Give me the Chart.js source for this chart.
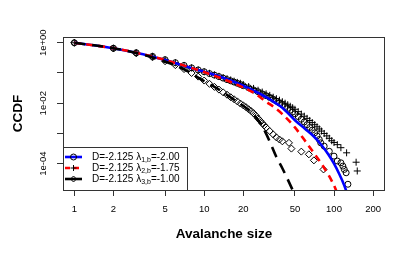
<!DOCTYPE html>
<html>
<head>
<meta charset="utf-8">
<script src="https://cdn.jsdelivr.net/npm/chart.js@4.4.1/dist/chart.umd.min.js"></script>
<style>
  html, body { margin: 0; padding: 0; background: #fff; }
</style>
</head>
<body>
<canvas id="grafico" width="409" height="254"></canvas>
<script>
// ejes
const ejeX = [1, 2, 5, 10, 20, 50, 100, 200];
const ejeY = [1, 1e-1, 1e-2, 1e-3, 1e-4];
const etiquetasY = ['1e+00', '', '1e-02', '', '1e-04'];

// datos empiricos (CCDF)
const circX = [1,2,3,4,5,6,7,8,9,10,11,12,13,14,15,16,17,18,19,20,22,24,26,28,30,32,34,36,38,40,42,44,46,48,50,53,56,59,62,65,68,71,74,77,79,84,92,100,106,113,117,120,124,128];
const circY = [1,0.66,0.468,0.355,0.275,0.219,0.178,0.148,0.126,0.110,0.0955,0.0851,0.0759,0.0676,0.0603,0.0550,0.0501,0.0457,0.0417,0.0380,0.0324,0.0275,0.0240,0.0204,0.0178,0.0155,0.0135,0.0117,0.0102,0.00891,0.00776,0.00676,0.00589,0.00513,0.00447,0.00363,0.00295,0.00240,0.00195,0.00158,0.00129,0.00105,0.000832,0.000631,0.000490,0.000380,0.000257,0.000178,0.000123,0.000107,0.0000832,0.0000646,0.0000501,0.0000209];

const cruzX = [1,2,3,4,5,6,7,8,9,10,11,12,13,14,15,16,17,18,19,20,22,24,26,28,30,32,34,36,38,40,42,44,46,48,50,53,56,59,62,65,68,71,74,77,80,84,88,92,96,100,106,113,125,148,151];
const cruzY = [1,0.66,0.468,0.355,0.275,0.219,0.178,0.148,0.126,0.110,0.0977,0.0871,0.0776,0.0708,0.0646,0.0589,0.0537,0.0490,0.0457,0.0417,0.0355,0.0309,0.0269,0.0234,0.0204,0.0182,0.0158,0.0141,0.0126,0.0112,0.0100,0.00891,0.00794,0.00708,0.00631,0.00525,0.00437,0.00372,0.00316,0.00269,0.00229,0.00195,0.00166,0.00141,0.00120,0.00100,0.000832,0.000692,0.000575,0.000501,0.000427,0.000339,0.000229,0.000112,0.0000575];

const rombX = [1,2,3,4,5,6,7,8,9,10,11,12,13,14,15,16,17,18,19,20,21,22,23,24,25,26,27,28,29,30,32,34,36,38,40,45,47,56,64,70,83];
const rombY = [1,0.646,0.447,0.331,0.245,0.182,0.135,0.100,0.0759,0.0562,0.0437,0.0347,0.0282,0.0229,0.0191,0.0158,0.0135,0.0115,0.00977,0.00851,0.00741,0.00631,0.00550,0.00468,0.00389,0.00316,0.00263,0.00219,0.00186,0.00158,0.00120,0.000933,0.000741,0.000631,0.000550,0.000490,0.000316,0.000251,0.000204,0.000129,0.0000646];

// ajustes
const ajusteAzulX = [1,2,3,4,5,7,10,14,20,25,30,35,40,50,60,70,80,90,100,110,120,130];
const ajusteAzulY = [1,0.661,0.468,0.347,0.269,0.174,0.110,0.0692,0.0380,0.0240,0.0158,0.0105,0.00708,0.00275,0.00141,0.000794,0.000417,0.000209,0.0001,0.0000447,0.0000191,0.00000708];

const ajusteRojoX = [1,2,3,5,10,15,20,25,30,35,40,50,60,70,80,90,100,110];
const ajusteRojoY = [1,0.661,0.468,0.269,0.107,0.0562,0.0331,0.0200,0.0112,0.00708,0.00437,0.00158,0.000562,0.000224,0.0001,0.0000447,0.0000191,0.00000708];

const ajusteNegroX = [1,2,3,5,7,10,13,18,22,25,28,32,36,40,44,48,52];
const ajusteNegroY = [1,0.661,0.457,0.240,0.132,0.0537,0.0282,0.0110,0.00603,0.00339,0.00174,0.000537,0.000166,0.0000708,0.0000302,0.0000135,0.0000063];

const leyenda = [
  { sub: '1,b', valor: '=-2.00', color: '#0000ff', dash: [], marca: 'circle' },
  { sub: '2,b', valor: '=-1.75', color: '#ff0000', dash: [5, 4], marca: 'cross' },
  { sub: '3,b', valor: '=-1.00', color: '#000000', dash: [], marca: 'rectRot' }
];

const fuente = '"Liberation Sans", Arial, Helvetica, sans-serif';

function puntos(xs, ys) {
  return xs.map((x, i) => ({ x: x, y: ys[i] }));
}

function serieAjuste(xs, ys, color, dash) {
  return {
    data: puntos(xs, ys),
    showLine: true,
    borderColor: color,
    borderWidth: 2.6,
    borderDash: dash,
    pointRadius: 0,
    cubicInterpolationMode: 'monotone',
    clip: 0
  };
}

function seriePuntos(xs, ys, estilo, radio) {
  return {
    data: puntos(xs, ys),
    showLine: false,
    pointStyle: estilo,
    pointRadius: radio,
    pointBorderColor: '#000',
    pointBackgroundColor: 'rgba(0,0,0,0)',
    pointBorderWidth: 1,
    clip: 0
  };
}

const decoracion = {
  id: 'decoracion',
  afterDraw(chart) {
    const ctx = chart.ctx;
    const a = chart.chartArea;
    const sy = chart.scales.y;
    ctx.save();

    // caja
    ctx.strokeStyle = '#333';
    ctx.lineWidth = 1;
    ctx.strokeRect(a.left + 0.5, a.top + 0.5, a.right - a.left - 1, a.bottom - a.top);

    // etiquetas eje y (rotadas)
    ctx.fillStyle = '#000';
    ctx.font = '9.5px ' + fuente;
    ctx.textAlign = 'center';
    ctx.textBaseline = 'middle';
    ejeY.forEach((v, i) => {
      if (!etiquetasY[i]) return;
      ctx.save();
      ctx.translate(43, sy.getPixelForValue(v));
      ctx.rotate(-Math.PI / 2);
      ctx.fillText(etiquetasY[i], 0, 0);
      ctx.restore();
    });

    // titulos
    ctx.font = 'bold 13.5px ' + fuente;
    ctx.fillText('Avalanche size', (a.left + a.right) / 2, 234);
    ctx.save();
    ctx.translate(18, (a.top + a.bottom) / 2);
    ctx.rotate(-Math.PI / 2);
    ctx.fillText('CCDF', 0, 0);
    ctx.restore();

    // leyenda
    const lx = a.left, ly = 147, lw = 124, lh = a.bottom - 147;
    ctx.fillStyle = '#fff';
    ctx.fillRect(lx, ly, lw, lh);
    ctx.strokeStyle = '#333';
    ctx.strokeRect(lx + 0.5, ly + 0.5, lw, lh);
    leyenda.forEach((item, i) => {
      const y = 157 + i * 11;
      ctx.strokeStyle = item.color;
      ctx.lineWidth = 2.6;
      ctx.setLineDash(item.dash);
      ctx.beginPath();
      ctx.moveTo(lx + 2, y);
      ctx.lineTo(lx + 19, y);
      ctx.stroke();
      ctx.setLineDash([]);
      ctx.strokeStyle = '#000';
      ctx.fillStyle = 'rgba(0,0,0,0)';
      ctx.lineWidth = 1;
      Chart.helpers.drawPoint(ctx, {
        pointStyle: item.marca, radius: 3, borderWidth: 1, rotation: 0
      }, lx + 10.5, y);
      ctx.fillStyle = '#000';
      ctx.textAlign = 'left';
      ctx.textBaseline = 'middle';
      ctx.font = '10px ' + fuente;
      let tx = lx + 29;
      const t1 = 'D=-2.125 \u03bb';
      ctx.fillText(t1, tx, y);
      tx += ctx.measureText(t1).width;
      ctx.font = '7px ' + fuente;
      ctx.fillText(item.sub, tx, y + 3);
      tx += ctx.measureText(item.sub).width;
      ctx.font = '10px ' + fuente;
      ctx.fillText(item.valor, tx, y);
    });
    ctx.restore();
  }
};

const escalaComun = {
  type: 'logarithmic',
  grid: { drawOnChartArea: false, tickLength: 6, tickColor: '#333', lineWidth: 1 },
  border: { display: false }
};

new Chart(document.getElementById('grafico'), {
  type: 'scatter',
  data: {
    datasets: [
      serieAjuste(ajusteNegroX, ajusteNegroY, '#000000', [11, 7]),
      serieAjuste(ajusteRojoX, ajusteRojoY, '#ff0000', [7, 5]),
      serieAjuste(ajusteAzulX, ajusteAzulY, '#0000ff', []),
      seriePuntos(circX, circY, 'circle', 3),
      seriePuntos(cruzX, cruzY, 'cross', 3.5),
      seriePuntos(rombX, rombY, 'rectRot', 3.5)
    ]
  },
  options: {
    responsive: false,
    animation: false,
    layout: { padding: { top: 37, right: 24, left: 0, bottom: 0 } },
    plugins: { legend: { display: false }, tooltip: { enabled: false } },
    scales: {
      x: Object.assign({}, escalaComun, {
        min: 0.818, max: 247,
        afterBuildTicks: s => { s.ticks = ejeX.map(v => ({ value: v })); },
        afterFit: s => { s.height = 64; },
        ticks: {
          autoSkip: false, maxRotation: 0, padding: 8, color: '#000',
          font: { family: fuente, size: 9.5 },
          callback: v => String(v)
        }
      }),
      y: Object.assign({}, escalaComun, {
        min: 1.35e-5, max: 1.55,
        afterBuildTicks: s => { s.ticks = ejeY.map(v => ({ value: v })); },
        afterFit: s => { s.width = 63; },
        ticks: { display: false }
      })
    }
  },
  plugins: [decoracion]
});
</script>
</body>
</html>
